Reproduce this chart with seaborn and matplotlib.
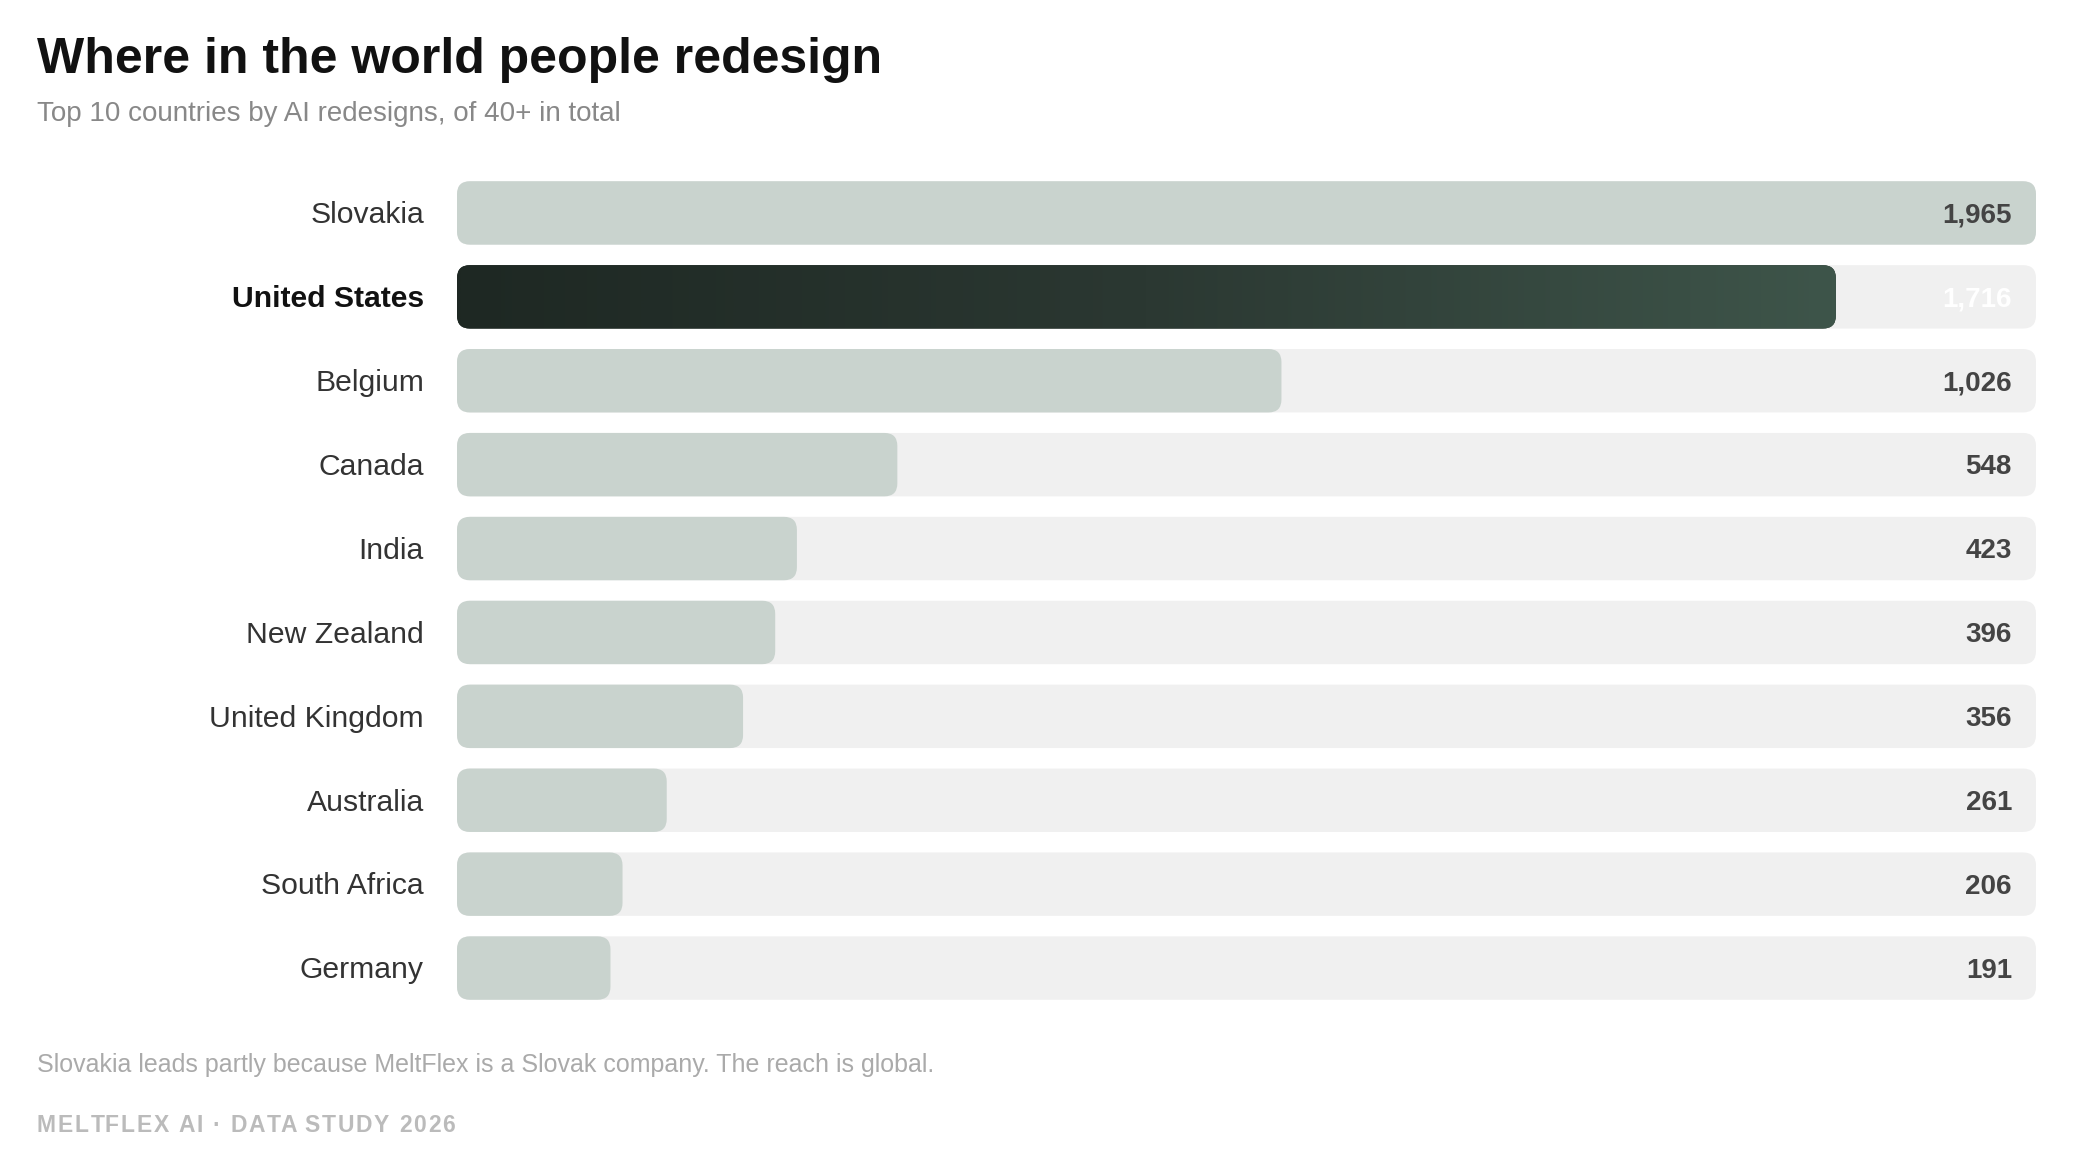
import numpy as np
import pandas as pd
import matplotlib
matplotlib.use("Agg")
import matplotlib.pyplot as plt
import seaborn as sns
from matplotlib.patches import FancyBboxPatch
from matplotlib.colors import LinearSegmentedColormap

# ---- data ----
countries = ["Slovakia", "United States", "Belgium", "Canada", "India",
             "New Zealand", "United Kingdom", "Australia", "South Africa", "Germany"]
values = [1965, 1716, 1026, 548, 423, 396, 356, 261, 206, 191]
highlight = "United States"

title = "Where in the world people redesign"
subtitle = "Top 10 countries by AI redesigns, of 40+ in total"
note = "Slovakia leads partly because MeltFlex is a Slovak company. The reach is global."
brand = "MELTFLEX AI · DATA STUDY 2026"

# ---- style ----
sns.set_theme(style="white")
plt.rcParams["font.family"] = ["Liberation Sans", "DejaVu Sans"]

W, H = 2073, 1169
fig = plt.figure(figsize=(W / 100, H / 100), dpi=100)
fig.patch.set_facecolor("white")
ax = fig.add_axes([457 / W, 1 - 1010 / H, (2036 - 457) / W, (1010 - 171) / H])

df = pd.DataFrame({"country": countries, "value": values})
track_max = max(values)
df["track"] = track_max

BAR_H = 0.756
sns.barplot(data=df, x="track", y="country", color="#f0f0f0", saturation=1,
            width=BAR_H, ax=ax, orient="h")
palette = {c: ("#2a3630" if c == highlight else "#c9d3ce") for c in countries}
sns.barplot(data=df, x="value", y="country", hue="country", palette=palette,
            saturation=1, width=BAR_H, ax=ax, orient="h", legend=False)

ax.set_xlim(0, track_max)
ax.set_ylim(len(countries) - 0.5, -0.5)
for s in ax.spines.values():
    s.set_visible(False)
ax.set_xticks([])
ax.set_yticks([])
ax.set_xlabel("")
ax.set_ylabel("")
ax.set_facecolor("none")

# pixel scaling for rounded corners
fig.canvas.draw()
x0, y0 = ax.transData.transform((0, 0))
x1, y1 = ax.transData.transform((1, 1))
px_x = abs(x1 - x0)
px_y = abs(y1 - y0)
radius_px = 13
r = radius_px / px_x
aspect = px_x / px_y

patches = list(ax.patches)
hl_idx = countries.index(highlight)
hl_patch = None
for k, p in enumerate(patches):
    x, y, w, h = p.get_x(), p.get_y(), p.get_width(), p.get_height()
    fc = p.get_facecolor()
    z = 1 if k < len(countries) else 2
    p.remove()
    if w <= 0:
        continue
    fp = FancyBboxPatch((x, y), w, h, boxstyle=f"round,pad=0,rounding_size={r}",
                        mutation_aspect=aspect, facecolor=fc, edgecolor="none",
                        zorder=z)
    ax.add_patch(fp)
    if k >= len(countries) and abs((y + h / 2) - hl_idx) < 0.01:
        hl_patch = (fp, x, y, w, h)

if hl_patch is not None:
    fp, x, y, w, h = hl_patch
    cmap = LinearSegmentedColormap.from_list("g", ["#1e2823", "#2b3832", "#3e554a"])
    im = ax.imshow(np.linspace(0, 1, 512).reshape(1, -1), cmap=cmap, aspect="auto",
                   extent=[x, x + w, y + h, y], zorder=3, interpolation="bilinear")
    im.set_clip_path(fp)

ax.set_xlim(0, track_max)
ax.set_ylim(len(countries) - 0.5, -0.5)

# labels & values
for i, (c, v) in enumerate(zip(countries, values)):
    is_hl = c == highlight
    ax.annotate(c, xy=(0, i), xytext=(-23.8, -7.4), textcoords="offset points",
                ha="right", va="baseline", fontsize=21.7,
                fontweight="bold" if is_hl else "normal",
                color="#111111" if is_hl else "#333333", annotation_clip=False)
    ax.annotate(f"{v:,}", xy=(track_max, i), xytext=(-17.3, -7.0),
                textcoords="offset points", ha="right", va="baseline",
                fontsize=20, fontweight="bold",
                color="white" if is_hl else "#444444", zorder=6,
                annotation_clip=False)

fig.text(37 / W, 1 - 73 / H, title, fontsize=36, fontweight="bold",
         color="#111111", ha="left", va="baseline")
fig.text(37 / W, 1 - 121 / H, subtitle, fontsize=20, color="#888888",
         ha="left", va="baseline")
fig.text(37 / W, 1 - 1072 / H, note, fontsize=18, color="#aaaaaa",
         ha="left", va="baseline")

# letter-spaced brand line
renderer = fig.canvas.get_renderer()
brand_kw = dict(fontsize=16.5, fontweight="bold", color="#bbbbbb",
                ha="left", va="baseline")
spacing_px = 1.8


def text_width(s):
    t = fig.text(0, 0, s, **brand_kw)
    wpx = t.get_window_extent(renderer).width
    t.remove()
    return wpx


bar_w = text_width("|")
start_px = 37
for i, ch in enumerate(brand):
    offset = text_width(brand[:i] + "|") - bar_w if i > 0 else 0
    xpx = start_px + offset + i * spacing_px
    if ch != " ":
        fig.text(xpx / W, 1 - 1132 / H, ch, **brand_kw)

fig.savefig("out.png", dpi=100, facecolor="white")
